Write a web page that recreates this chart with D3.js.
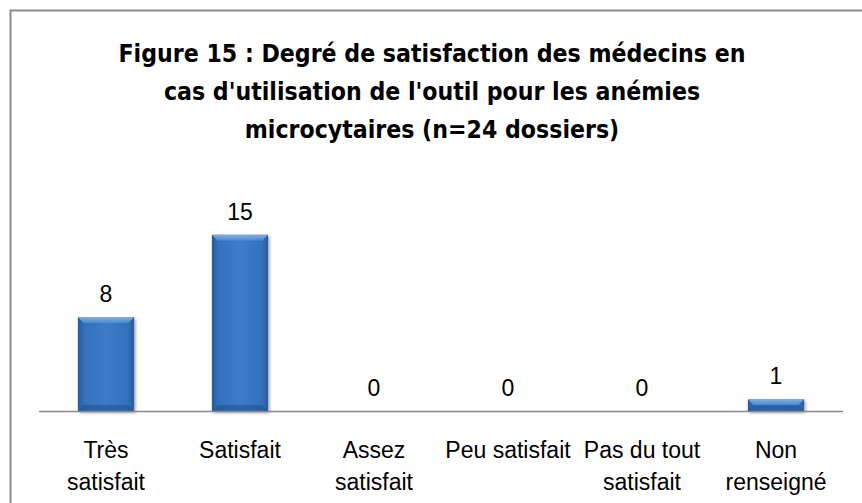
<!DOCTYPE html>
<html>
<head>
<meta charset="utf-8">
<script src="https://cdn.jsdelivr.net/npm/d3@7"></script>
<style>
  body { margin: 0; background: #fff; }
  svg { display: block; }
</style>
</head>
<body>
<div class="chart"></div>
<script>
var categories = [["Très", "satisfait"], ["Satisfait"], ["Assez", "satisfait"], ["Peu satisfait"], ["Pas du tout", "satisfait"], ["Non", "renseigné"]];
var values = [8, 15, 0, 0, 0, 1];
var titleLines = ["Figure 15 : Degré de satisfaction des médecins en",
                  "cas d'utilisation de l'outil pour les anémies",
                  "microcytaires (n=24 dossiers)"];

var width = 862, height = 503;

var svg = d3.select(".chart")
  .append("svg")
  .attr("width", width)
  .attr("height", height);

// outer frame runs off the right and bottom edges
svg.append("rect")
  .attr("x", 10.5).attr("y", 10.5)
  .attr("width", width + 20).attr("height", height + 20)
  .attr("fill", "none")
  .attr("stroke", "#8c8c8c")
  .attr("stroke-width", 2);

var defs = svg.append("defs");

var grad = defs.append("linearGradient")
  .attr("id", "barFill")
  .attr("x1", 0).attr("x2", 1).attr("y1", 0).attr("y2", 0);
grad.append("stop").attr("offset", "0%").attr("stop-color", "#2a5b9e");
grad.append("stop").attr("offset", "12%").attr("stop-color", "#3570bd");
grad.append("stop").attr("offset", "50%").attr("stop-color", "#3c7cc9");
grad.append("stop").attr("offset", "88%").attr("stop-color", "#3570bd");
grad.append("stop").attr("offset", "100%").attr("stop-color", "#2a5b9e");

var topGrad = defs.append("linearGradient")
  .attr("id", "bevelTop")
  .attr("x1", 0).attr("x2", 0).attr("y1", 0).attr("y2", 1);
topGrad.append("stop").attr("offset", "0%").attr("stop-color", "#7fb0e8");
topGrad.append("stop").attr("offset", "100%").attr("stop-color", "#4a88d2");

var shadow = defs.append("filter").attr("id", "shadow")
  .attr("x", "-20%").attr("y", "-20%").attr("width", "150%").attr("height", "150%");
shadow.append("feDropShadow")
  .attr("dx", 1.5).attr("dy", 2).attr("stdDeviation", 1.5)
  .attr("flood-color", "#000").attr("flood-opacity", 0.35);

// title
svg.append("g")
  .selectAll("text")
  .data(titleLines)
  .enter()
  .append("text")
    .attr("x", 432)
    .attr("y", function(d, i){ return 62 + i * 38; })
    .attr("text-anchor", "middle")
    .attr("font-family", "'DejaVu Sans Condensed', sans-serif")
    .attr("font-weight", "bold")
    .attr("font-size", 24.6)
    .attr("fill", "#000")
    .text(function(d){ return d; });

var x = d3.scaleBand()
  .domain(d3.range(categories.length))
  .range([39, 843])
  .paddingInner(0.58)
  .paddingOuter(0.29);

var y = d3.scaleLinear()
  .domain([0, 16])
  .range([411, 223]);

var g = svg.append("g");

// bars with bevel look
values.forEach(function(v, i){
  if (v <= 0) return;
  var bx = x(i), bw = x.bandwidth(), by = y(v), bh = y(0) - y(v);
  var bar = g.append("g").attr("filter", "url(#shadow)");
  bar.append("rect")
    .attr("x", bx).attr("y", by)
    .attr("width", bw).attr("height", bh)
    .attr("fill", "url(#barFill)");
  var bev = Math.min(6, bh / 2);
  bar.append("path")
    .attr("d", "M" + bx + "," + by + "L" + (bx + bw) + "," + by +
               "L" + (bx + bw - bev) + "," + (by + bev) + "L" + (bx + bev) + "," + (by + bev) + "Z")
    .attr("fill", "url(#bevelTop)");
  bar.append("path")
    .attr("d", "M" + bx + "," + (by + bh) + "L" + (bx + bw) + "," + (by + bh) +
               "L" + (bx + bw - bev) + "," + (by + bh - bev) + "L" + (bx + bev) + "," + (by + bh - bev) + "Z")
    .attr("fill", "#25528f")
    .attr("opacity", 0.6);
});

// axis line
svg.append("line")
  .attr("x1", 39).attr("x2", 843)
  .attr("y1", y(0) + 0.5).attr("y2", y(0) + 0.5)
  .attr("stroke", "#868686")
  .attr("stroke-width", 1.5);

// value labels
g.selectAll("text.value")
  .data(values)
  .enter()
  .append("text")
    .attr("class", "value")
    .attr("x", function(d, i){ return x(i) + x.bandwidth() / 2; })
    .attr("y", function(d){ return y(d) - 15; })
    .attr("text-anchor", "middle")
    .attr("font-family", "'Liberation Sans', Arial, sans-serif")
    .attr("font-size", 23)
    .attr("fill", "#000")
    .text(function(d){ return d; });

// category labels
var cat = svg.append("g")
  .selectAll("text")
  .data(categories)
  .enter()
  .append("text")
    .attr("text-anchor", "middle")
    .attr("font-family", "'Liberation Sans', Arial, sans-serif")
    .attr("font-size", 23)
    .attr("fill", "#000");

cat.selectAll("tspan")
  .data(function(d, i){ return d.map(function(t){ return {t: t, i: i}; }); })
  .enter()
  .append("tspan")
    .attr("x", function(d){ return x(d.i) + x.bandwidth() / 2; })
    .attr("y", function(d, j){ return 458 + j * 32; })
    .text(function(d){ return d.t; });
</script>
</body>
</html>
